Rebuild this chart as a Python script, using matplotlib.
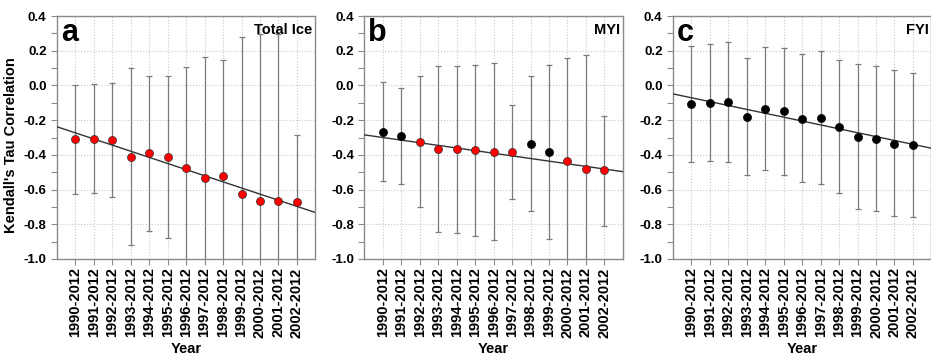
import numpy as np
import matplotlib
matplotlib.use("Agg")
import matplotlib.pyplot as plt
from matplotlib.ticker import MultipleLocator

plt.rcParams['font.family'] = ['Liberation Sans', 'DejaVu Sans']
plt.rcParams['font.weight'] = 'bold'

periods = ['1990-2012', '1991-2012', '1992-2012', '1993-2012', '1994-2012',
           '1995-2012', '1996-2012', '1997-2012', '1998-2012', '1999-2012',
           '2000-2012', '2001-2012', '2002-2012']

# Total ice
tau_total = [-0.31, -0.306, -0.315, -0.411, -0.392, -0.41, -0.473, -0.532,
             -0.522, -0.626, -0.668, -0.668, -0.672]
hi_total = [0.005, 0.011, 0.015, 0.103, 0.055, 0.055, 0.107, 0.164,
            0.149, 0.281, 0.298, 0.295, -0.285]
lo_total = [-0.628, -0.622, -0.64, -0.921, -0.839, -0.879, -1.05, -1.05,
            -1.05, -1.05, -1.05, -1.05, -1.05]
sig_total = [True] * 13

# MYI
tau_myi = [-0.267, -0.29, -0.325, -0.367, -0.367, -0.373, -0.383, -0.383,
           -0.335, -0.384, -0.436, -0.484, -0.49]
hi_myi = [0.018, -0.014, 0.053, 0.111, 0.114, 0.118, 0.128, -0.112,
          0.055, 0.12, 0.16, 0.178, -0.174]
lo_myi = [-0.549, -0.567, -0.701, -0.846, -0.852, -0.866, -0.891, -0.657,
          -0.724, -0.887, -1.05, -1.05, -0.812]
sig_myi = [False, False, True, True, True, True, True, True,
           False, False, True, True, True]

# FYI
tau_fyi = [-0.108, -0.099, -0.093, -0.179, -0.135, -0.15, -0.192, -0.185,
           -0.24, -0.298, -0.308, -0.335, -0.346]
hi_fyi = [0.229, 0.237, 0.252, 0.16, 0.22, 0.216, 0.18, 0.2,
          0.149, 0.122, 0.111, 0.087, 0.07]
lo_fyi = [-0.444, -0.436, -0.444, -0.517, -0.49, -0.517, -0.559, -0.567,
          -0.622, -0.714, -0.724, -0.753, -0.76]
sig_fyi = [False] * 13

panels = [
    ('a', 'Total Ice', tau_total, hi_total, lo_total, sig_total),
    ('b', 'MYI', tau_myi, hi_myi, lo_myi, sig_myi),
    ('c', 'FYI', tau_fyi, hi_fyi, lo_fyi, sig_fyi),
]

fig = plt.figure(figsize=(9.31, 3.56), dpi=100)
lefts = [0.0612, 0.3915, 0.7229]
spine_col = '#8a8a8a'

for left, (letter, name, tau, hi, lo, sig) in zip(lefts, panels):
    ax = fig.add_axes([left, 0.2725, 0.2775, 0.6825])
    x = np.arange(len(periods))
    tau = np.array(tau)
    hi = np.array(hi)
    lo = np.array(lo)
    sig = np.array(sig)

    ax.errorbar(x, tau, yerr=[tau - lo, hi - tau], fmt='none',
                ecolor='#7a7a7a', elinewidth=0.9, capsize=2.5, capthick=0.9,
                zorder=2)

    # trend line fitted to significant points (all points if none)
    mask = sig if sig.any() else np.ones_like(sig)
    k, b = np.polyfit(x[mask], tau[mask], 1)
    xl = np.array([-1, 13])
    ax.plot(xl, k * xl + b, color='#333333', lw=1.0, zorder=3)

    ax.plot(x[~sig], tau[~sig], 'o', ms=5.8, mfc='black', mec='black',
            mew=0.5, zorder=4)
    ax.plot(x[sig], tau[sig], 'o', ms=5.8, mfc='#ff0000', mec='#333333',
            mew=0.5, zorder=4)

    ax.set_xlim(-1, 13)
    ax.set_ylim(-1.0, 0.4)
    ax.set_xticks(x)
    ax.set_xticklabels(periods, rotation=90, fontsize=10.5, fontweight='bold')
    ax.yaxis.set_major_locator(MultipleLocator(0.2))
    ax.yaxis.set_minor_locator(MultipleLocator(0.1))
    ax.set_yticklabels(['%.1f' % v for v in ax.get_yticks()])
    ax.tick_params(axis='y', which='both', length=4, width=0.8,
                   color=spine_col, labelsize=9.5)
    ax.tick_params(axis='x', length=4, width=0.8, color=spine_col, pad=2)
    for t in ax.get_yticklabels():
        t.set_fontweight('bold')
    ax.grid(True, which='major', linestyle=':', color='#c8c8c8', lw=0.8)
    ax.set_axisbelow(True)
    for s in ax.spines.values():
        s.set_color(spine_col)
        s.set_linewidth(1.0)

    ax.set_xlabel('Year', fontsize=10.5, fontweight='bold', labelpad=3)
    if letter == 'a':
        ax.set_ylabel("Kendall's Tau Correlation", fontsize=10.5,
                      fontweight='bold')
        ax.yaxis.set_label_coords(-0.15, 0.47)

    ax.text(0.015, 0.99, letter, transform=ax.transAxes, fontsize=22,
            fontweight='bold', va='top', ha='left')
    ax.text(0.99, 0.97, name, transform=ax.transAxes, fontsize=10.5,
            fontweight='bold', va='top', ha='right')

fig.savefig('out.png', dpi=100)
